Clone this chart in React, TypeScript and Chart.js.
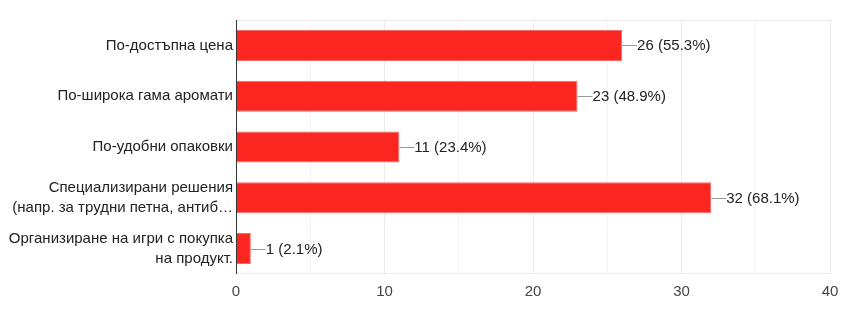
import React, { useEffect, useRef } from "react";
import { Chart, registerables } from "chart.js";

Chart.register(...registerables);

const categories: (string | string[])[] = [
  "По-достъпна цена",
  "По-широка гама аромати",
  "По-удобни опаковки",
  ["Специализирани решения", "(напр. за трудни петна, антиб…"],
  ["Организиране на игри с покупка", "на продукт."],
];
const counts = [26, 23, 11, 32, 1];
const percents = ["55.3%", "48.9%", "23.4%", "68.1%", "2.1%"];
const xTicks = [0, 10, 20, 30, 40];

const FONT = "Arial, 'Liberation Sans', sans-serif";

const labelPlugin = {
  id: "valueLabels",
  afterDatasetsDraw(chart: any) {
    const ctx = chart.ctx;
    const meta = chart.getDatasetMeta(0);
    const area = chart.chartArea;
    ctx.save();
    ctx.strokeStyle = "#ebebeb";
    ctx.lineWidth = 1;
    ctx.beginPath();
    ctx.moveTo(area.left, area.top + 0.5);
    ctx.lineTo(area.right, area.top + 0.5);
    ctx.moveTo(area.left, area.bottom - 0.5);
    ctx.lineTo(area.right, area.bottom - 0.5);
    ctx.stroke();
    ctx.strokeStyle = "#333333";
    ctx.beginPath();
    ctx.moveTo(area.left + 0.5, area.top);
    ctx.lineTo(area.left + 0.5, area.bottom);
    ctx.stroke();
    ctx.font = `15px ${FONT}`;
    ctx.textBaseline = "middle";
    ctx.textAlign = "left";
    meta.data.forEach((bar: any, i: number) => {
      const x = bar.x;
      const y = Math.round(bar.y) + 0.5;
      ctx.strokeStyle = "#999999";
      ctx.beginPath();
      ctx.moveTo(x, y);
      ctx.lineTo(x + 15, y);
      ctx.stroke();
      ctx.fillStyle = "#222222";
      ctx.fillText(`${counts[i]} (${percents[i]})`, x + 15, y);
    });
    ctx.restore();
  },
};

export default function App() {
  const ref = useRef<HTMLCanvasElement | null>(null);
  useEffect(() => {
    if (!ref.current) return;
    const chart = new Chart(ref.current, {
      type: "bar",
      data: {
        labels: categories,
        datasets: [
          {
            data: counts,
            backgroundColor: "#fc2620",
            borderColor: "#f26a6a",
            borderWidth: 1,
            categoryPercentage: 1,
            barPercentage: 0.61,
          },
        ],
      },
      options: {
        indexAxis: "y",
        animation: false,
        responsive: false,
        maintainAspectRatio: false,
        layout: { padding: { top: 20, right: 32, left: 0, bottom: 0 } },
        plugins: {
          legend: { display: false },
          tooltip: { enabled: false },
        },
        scales: {
          x: {
            min: 0,
            max: 40,
            afterBuildTicks: (scale: any) => {
              const t: any[] = [];
              for (let v = 0; v <= 40; v += 5) t.push({ value: v });
              scale.ticks = t;
            },
            afterFit: (scale: any) => {
              scale.height = 49;
              scale.paddingLeft = 0;
              scale.paddingRight = 0;
            },
            grid: {
              drawTicks: false,
              color: (c: any) =>
                c.tick && c.tick.value % 10 === 0 ? "#ebebeb" : "#f4f4f4",
            },
            border: { display: false },
            ticks: {
              padding: 9,
              color: "#444444",
              font: { size: 15, family: FONT },
              callback: (v: any) => (xTicks.includes(Number(v)) ? String(v) : ""),
              maxRotation: 0,
              autoSkip: false,
            },
          },
          y: {
            afterFit: (scale: any) => {
              scale.width = 236;
              scale.paddingTop = 0;
              scale.paddingBottom = 0;
            },
            grid: { display: false, drawTicks: false },
            border: { display: false },
            ticks: {
              padding: 3,
              color: "#222222",
              font: { size: 15, family: FONT, lineHeight: 20 / 15 },
              autoSkip: false,
            },
          },
        },
      },
      plugins: [labelPlugin],
    });
    return () => chart.destroy();
  }, []);
  return (
    <div style={{ position: "fixed", left: 0, top: 0, width: 862, height: 323, background: "#fff" }}>
      <canvas ref={ref} width={862} height={323} style={{ display: "block" }} />
    </div>
  );
}
